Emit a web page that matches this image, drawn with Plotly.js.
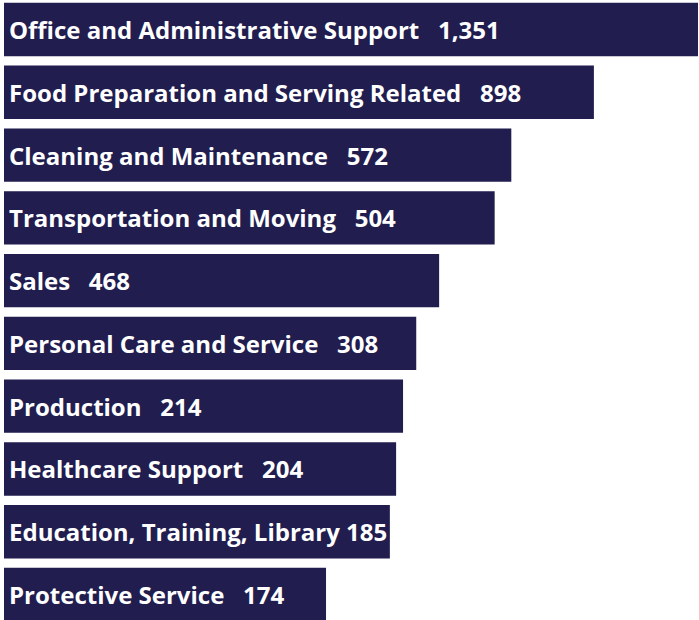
<!DOCTYPE html>
<html>
<head>
<meta charset="utf-8">
<script src="https://cdn.plot.ly/plotly-3.0.1.min.js"></script>
<style>html,body{margin:0;padding:0;background:#fff;}#chart{width:699px;height:620px;}</style>
</head>
<body>
<div id="chart"></div>
<script>
// Occupation categories (top to bottom)
const categories = [
  "Office and Administrative Support",
  "Food Preparation and Serving Related",
  "Cleaning and Maintenance",
  "Transportation and Moving",
  "Sales",
  "Personal Care and Service",
  "Production",
  "Healthcare Support",
  "Education, Training, Library",
  "Protective Service"
];
// Labelled values
const values = [1351, 898, 572, 504, 468, 308, 214, 204, 185, 174];
// Bar lengths as drawn in the original (not proportional to values), % of longest bar
const barLength = [100, 85.0, 73.1, 70.7, 62.7, 59.4, 57.5, 56.5, 55.6, 46.4];
// Separator between name and value in each label
const separators = ["   ", "   ", "   ", "   ", "   ", "   ", "   ", "   ", " ", "   "];

const NAVY = "#211d4f";
const fmt = v => v.toLocaleString("en-US");
const labels = categories.map((c, i) => c + separators[i].replace(/ /g, "\u00a0") + fmt(values[i]));

const trace = {
  type: "bar",
  orientation: "h",
  x: barLength,
  y: categories,
  marker: {color: NAVY, line: {width: 0}},
  width: 0.85,
  hoverinfo: "skip"
};

const annotations = categories.map((c, i) => ({
  x: 0, y: c, xref: "x", yref: "y",
  xanchor: "left", yanchor: "middle",
  xshift: 3, yshift: 0,
  text: "<b>" + labels[i] + "</b>",
  showarrow: false,
  font: {family: "Open Sans, sans-serif", size: 24, color: "#ffffff"}
}));

const layout = {
  width: 699, height: 620,
  margin: {l: 4, r: 1, t: 0, b: 0, pad: 0},
  paper_bgcolor: "#ffffff", plot_bgcolor: "#ffffff",
  showlegend: false,
  xaxis: {range: [0, 100], visible: false, fixedrange: true},
  yaxis: {type: "category", categoryorder: "array", categoryarray: categories,
          range: [9.406, -0.470], visible: false, fixedrange: true},
  annotations: annotations
};

Plotly.newPlot("chart", [trace], layout, {displayModeBar: false, staticPlot: true});
</script>
</body>
</html>
